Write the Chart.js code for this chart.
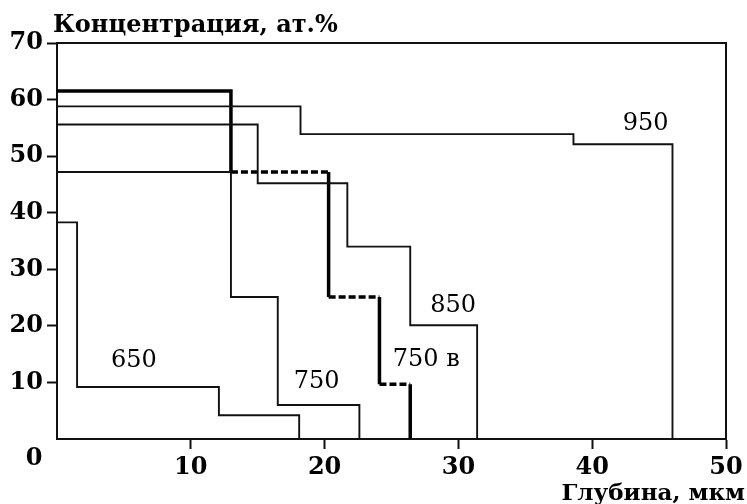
<!DOCTYPE html>
<html>
<head>
<meta charset="utf-8">
<script src="https://cdn.jsdelivr.net/npm/chart.js@4.4.1/dist/chart.umd.min.js"></script>
<style>
  html, body { margin: 0; padding: 0; background: #ffffff; }
  #wrap { width: 747px; height: 504px; }
</style>
</head>
<body>
<div id="wrap"><canvas id="grafik" width="747" height="504"></canvas></div>
<script>
// Глубина (мкм) - границы ступеней, концентрация (ат.%) - уровни ступеней
const depth650 = [0, 1.5, 12.1, 18.1];
const conc650 = [38.3, 9.2, 4.2];
const depth750 = [0, 13.0, 16.5, 22.6];
const conc750 = [47.2, 25.1, 6.0];
const depth750v = [0, 13.0, 20.3, 24.1, 26.4];
const conc750v = [61.5, 47.2, 25.1, 9.7];
const depth850 = [0, 15.0, 21.7, 26.4, 31.4];
const conc850 = [55.6, 45.2, 34.0, 20.1];
const depth950 = [0, 18.2, 38.6, 46.0];
const conc950 = [58.8, 53.9, 52.1];

const xTicks = [10, 20, 30, 40, 50];
const yTicks = [10, 20, 30, 40, 50, 60, 70];

// подписи кривых (в координатах данных)
const curveLabels = ['650', '750', '750 в', '850', '950'];
const curveLabelX = [5.75, 19.4, 27.6, 29.6, 44.0];
const curveLabelY = [13.8, 10.1, 14.0, 23.5, 55.7];

const yTitle = 'Концентрация, ат.%';
const xTitle = 'Глубина, мкм';

const LINE = '#111';

function stepPoints(depth, conc) {
    const pts = [];
    conc.forEach((c, i) => {
        pts.push({ x: depth[i], y: c });
        pts.push({ x: depth[i + 1], y: c });
    });
    pts.push({ x: depth[depth.length - 1], y: 0 });
    return pts;
}

function thinLine(depth, conc) {
    return {
        data: stepPoints(depth, conc),
        borderColor: LINE,
        borderWidth: 1.9,
        pointRadius: 0,
        fill: false,
        tension: 0
    };
}

const thick750v = {
    data: stepPoints(depth750v, conc750v),
    borderColor: '#000',
    borderWidth: 3.5,
    pointRadius: 0,
    fill: false,
    tension: 0,
    segment: {
        borderDash: ctx => {
            const yatay = ctx.p0.parsed.y === ctx.p1.parsed.y;
            if (yatay) return ctx.p0.parsed.y > 50 ? [] : [7, 3];
            return ctx.p1.parsed.y === 0 ? [14, 3] : [];
        }
    }
};

const cercevePlugin = {
    id: 'cerceve',
    afterDraw(chart) {
        const { ctx, chartArea, scales } = chart;
        ctx.save();
        ctx.strokeStyle = LINE;
        ctx.lineWidth = 2;
        ctx.beginPath();
        ctx.moveTo(chartArea.left, chartArea.top);
        ctx.lineTo(chartArea.right, chartArea.top);
        ctx.lineTo(chartArea.right, chartArea.bottom);
        ctx.stroke();

        ctx.fillStyle = '#000';
        ctx.textBaseline = 'alphabetic';
        ctx.textAlign = 'left';
        ctx.font = 'bold 24px "DejaVu Serif"';
        ctx.fillText(yTitle, 53, 32);
        ctx.textAlign = 'right';
        ctx.font = 'bold 23px "DejaVu Serif"';
        ctx.fillText(xTitle, 745, 500);
        ctx.textAlign = 'center';
        ctx.textBaseline = 'middle';
        ctx.font = 'bold 24px "DejaVu Serif"';
        ctx.fillText('0', 34, 459);

        ctx.font = '24px "DejaVu Serif"';
        curveLabels.forEach((t, i) => {
            ctx.fillText(t, scales.x.getPixelForValue(curveLabelX[i]), scales.y.getPixelForValue(curveLabelY[i]));
        });
        ctx.restore();
    }
};

new Chart(document.getElementById('grafik'), {
    type: 'line',
    data: {
        datasets: [
            thinLine(depth650, conc650),
            thinLine(depth750, conc750),
            thinLine(depth850, conc850),
            thinLine(depth950, conc950),
            thick750v
        ]
    },
    options: {
        responsive: false,
        animation: false,
        layout: { padding: { top: 43, right: 21, left: 0, bottom: 0 } },
        plugins: {
            legend: { display: false },
            tooltip: { enabled: false },
            title: { display: false }
        },
        scales: {
            x: {
                type: 'linear',
                min: 0,
                max: 50,
                afterFit: s => { s.height = 65; },
                afterBuildTicks: s => { s.ticks = xTicks.map(v => ({ value: v })); },
                ticks: {
                    color: '#000',
                    font: { family: 'DejaVu Serif', size: 24, weight: 'bold' },
                    padding: 4,
                    maxRotation: 0
                },
                grid: { drawOnChartArea: false, tickLength: 10, tickColor: LINE, tickWidth: 2 },
                border: { color: LINE, width: 2 }
            },
            y: {
                type: 'linear',
                min: 0,
                max: 70,
                afterFit: s => { s.width = 57; },
                afterBuildTicks: s => { s.ticks = yTicks.map(v => ({ value: v })); },
                ticks: {
                    color: '#000',
                    font: { family: 'DejaVu Serif', size: 24, weight: 'bold' },
                    padding: 4
                },
                grid: { drawOnChartArea: false, tickLength: 10, tickColor: LINE, tickWidth: 2 },
                border: { color: LINE, width: 2 }
            }
        }
    },
    plugins: [cercevePlugin]
});
</script>
</body>
</html>
